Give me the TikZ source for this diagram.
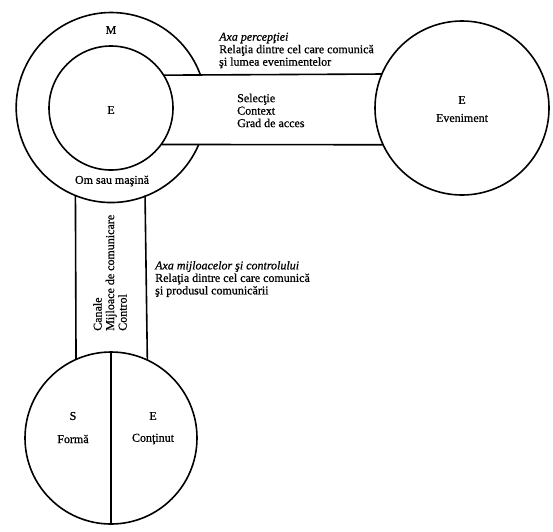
\documentclass[tikz,border=0pt]{standalone}
\usepackage{fontspec}
\setmainfont{Liberation Serif}[FakeBold=0.8]
\begin{document}
\begin{tikzpicture}[x=1pt,y=-1pt,
  ln/.style={line width=1.6pt},
  ring/.style={circle,inner sep=0pt,outer sep=0pt},
  txt/.style={inner sep=0pt,font=\fontsize{12}{12.5}\selectfont},
  blk/.style={txt,align=left,anchor=west}]
\useasboundingbox (0,0) rectangle (553,531);
% circles
\node[ring,minimum size=190pt] (M) at (111,107) {};
\node[ring,draw,ln,minimum size=124pt] (Ein) at (111,108) {};
\node[ring,draw,ln,minimum size=174pt] (Ev) at (462,108) {};
\node[ring,draw,ln,minimum size=172pt] (B) at (111,438) {};
% outer ring, open where the perception band passes
\draw[ln] (M.20.33) arc[start angle=20.33,end angle=337.08,radius=95pt];
% perception band
\draw[ln] (Ein.32.16) -- (Ev.157.71);
\draw[ln] (Ein.-36.64) -- (Ev.205.17);
% means band
\draw[ln] (M.248.38) -- (B.114.01);
\draw[ln] (M.291.62) -- (B.65.99);
% divider of the sign
\draw[ln] (B.north) -- (B.south);
% texts
\node[txt] (tM) at (111,30) {M};
\node[txt] (tE) at (111,110) {E};
\node[txt] (tOm) at (112,181) {Om sau maşină};
\node[blk] (tAxaP) at (219,50.5) {\textit{Axa percepţiei}\\Relaţia dintre cel care comunică\\şi lumea evenimentelor};
\node[blk] (tSel) at (237,110.5) {Selecţie\\Context\\Grad de acces};
\node[txt] (tEv1) at (462,100) {E};
\node[txt] (tEv2) at (462,118) {Eveniment};
\node[blk,rotate=90] (tCan) at (110,331) {Canale\\Mijloace de comunicare\\Control};
\node[blk] (tAxaM) at (155,279) {\textit{Axa mijloacelor şi controlului}\\Relaţia dintre cel care comunică\\şi produsul comunicării};
\node[txt] (tS) at (73,416) {S};
\node[txt] (tF) at (73,439) {Formă};
\node[txt] (tE2) at (153,416) {E};
\node[txt] (tC) at (153,439) {Conţinut};
\end{tikzpicture}
\end{document}
